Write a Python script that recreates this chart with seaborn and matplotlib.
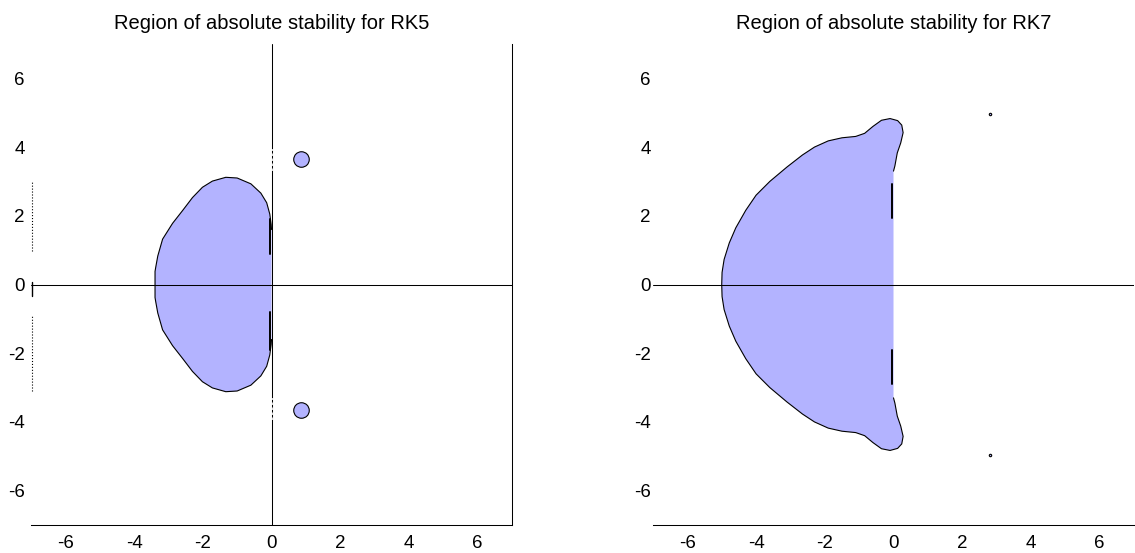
import matplotlib
matplotlib.use("Agg")
import matplotlib.pyplot as plt
import seaborn as sns
import pandas as pd

# ---------------- data ----------------
titles = ["Region of absolute stability for RK5", "Region of absolute stability for RK7"]
tick_values = [-6, -4, -2, 0, 2, 4, 6]
tick_labels = ["-6", "-4", "-2", "0", "2", "4", "6"]

# RK5 stability-region boundary (Re z, Im z), curved part, top -> left -> bottom
rk5_x = [0.00, -0.01, -0.05, -0.14, -0.31, -0.60, -1.00, -1.33, -1.72, -2.01,
         -2.30, -2.59, -2.88, -3.17, -3.31, -3.37, -3.39, -3.39, -3.39,
         -3.37, -3.31, -3.17, -2.88, -2.59, -2.30, -2.01, -1.72, -1.33,
         -1.00, -0.60, -0.31, -0.14, -0.05, -0.01, 0.00]
rk5_y = [1.60, 1.75, 2.05, 2.38, 2.66, 2.93, 3.10, 3.12, 3.01, 2.83,
         2.53, 2.15, 1.78, 1.32, 0.83, 0.50, 0.38, 0.00, -0.38,
         -0.50, -0.83, -1.32, -1.78, -2.15, -2.53, -2.83, -3.01, -3.12,
         -3.10, -2.93, -2.66, -2.38, -2.05, -1.75, -1.60]
rk5_island_x = [0.86, 0.86]
rk5_island_y = [3.65, -3.65]
rk5_edge_upper_y = [0.90, 1.90]
rk5_edge_lower_y = [-1.90, -0.80]

# RK7 stability-region boundary (Re z, Im z)
rk7_x = [0.00, 0.04, 0.11, 0.21, 0.28, 0.24, 0.12, -0.10, -0.35, -0.60,
         -0.84, -1.10, -1.50, -1.90, -2.30, -2.65, -3.10, -3.60, -4.00,
         -4.30, -4.59, -4.78, -4.93, -4.99, -5.00, -4.99,
         -4.93, -4.78, -4.59, -4.30, -4.00, -3.60, -3.10, -2.65, -2.30,
         -1.90, -1.50, -1.10, -0.84, -0.60, -0.35, -0.10, 0.12, 0.24,
         0.28, 0.21, 0.11, 0.04, 0.00]
rk7_y = [3.30, 3.45, 3.83, 4.12, 4.42, 4.64, 4.77, 4.83, 4.78, 4.60,
         4.40, 4.31, 4.27, 4.18, 4.00, 3.77, 3.42, 3.00, 2.60,
         2.16, 1.65, 1.21, 0.73, 0.35, 0.00, -0.35,
         -0.73, -1.21, -1.65, -2.16, -2.60, -3.00, -3.42, -3.77, -4.00,
         -4.18, -4.27, -4.31, -4.40, -4.60, -4.78, -4.83, -4.77, -4.64,
         -4.42, -4.12, -3.83, -3.45, -3.30]
rk7_island_x = [2.81, 2.81]
rk7_island_y = [4.96, -4.96]
rk7_edge_upper_y = [1.95, 2.92]
rk7_edge_lower_y = [-2.90, -1.90]

# dotted artefacts on the left border of the RK5 panel
rk5_border_dots_upper = [0.98, 3.00]
rk5_border_dots_lower = [-3.10, -0.93]
rk5_border_solid = [-0.33, 0.07]

# ---------------- styling ----------------
sns.set_theme(style="white")
plt.rcParams["font.family"] = ["Liberation Sans", "DejaVu Sans"]

FILL = "#b3b3ff"
LW1 = 0.75  # ~1 px

W, H = 1135, 553
fig = plt.figure(figsize=(W / 100, H / 100), dpi=100)
ax1 = fig.add_axes([31 / W, 28 / H, 481 / W, 481 / H])
ax2 = fig.add_axes([653 / W, 28 / H, 481 / W, 481 / H])


def draw_region(ax, xs, ys, ix, iy, isize, edge_up, edge_lo):
    ax.fill(xs, ys, color=FILL, lw=0, zorder=1)
    df = pd.DataFrame({"re": xs, "im": ys, "idx": range(len(xs))})
    sns.lineplot(data=df, x="re", y="im", sort=False, estimator=None,
                 color="black", lw=0.8, ax=ax, zorder=3)
    isl = pd.DataFrame({"re": ix, "im": iy})
    sns.scatterplot(data=isl, x="re", y="im", s=isize, color=FILL,
                    edgecolor="black", linewidth=0.8, ax=ax, zorder=3)
    ax.plot([-0.03, -0.03], edge_up, color="black", lw=1.4, zorder=4)
    ax.plot([-0.03, -0.03], edge_lo, color="black", lw=1.4, zorder=4)


draw_region(ax1, rk5_x, rk5_y, rk5_island_x, rk5_island_y, 125,
            rk5_edge_upper_y, rk5_edge_lower_y)
draw_region(ax2, rk7_x, rk7_y, rk7_island_x, rk7_island_y, 3,
            rk7_edge_upper_y, rk7_edge_lower_y)

# coordinate axes through the origin
ax1.axhline(0, color="black", lw=LW1, zorder=5)
ax1.axvline(0, color="black", lw=LW1, zorder=5)
ax1.plot([0, 0], [3.30, 3.95], color="white", lw=1.2, ls=(0, (1.5, 1.5)), zorder=6)
ax1.plot([0, 0], [-3.95, -3.30], color="white", lw=1.2, ls=(0, (1.5, 1.5)), zorder=6)
ax2.axhline(0, color="black", lw=LW1, zorder=5)

# left border artefacts of panel 1
ax1.plot([-6.97, -6.97], rk5_border_dots_upper, color="black", lw=0.8, ls=":", zorder=5)
ax1.plot([-6.97, -6.97], rk5_border_dots_lower, color="black", lw=0.8, ls=":", zorder=5)
ax1.plot([-6.97, -6.97], rk5_border_solid, color="black", lw=1.0, zorder=5)

for ax, title, ypad in ((ax1, titles[0], 4.5), (ax2, titles[1], 1.5)):
    ax.set_xlim(-7, 7)
    ax.set_ylim(-7, 7)
    ax.set_xlabel("")
    ax.set_ylabel("")
    ax.set_xticks(tick_values, tick_labels)
    ax.set_yticks(tick_values, tick_labels)
    ax.tick_params(axis="both", length=0, labelsize=13.5, colors="black")
    ax.tick_params(axis="x", pad=7)
    ax.tick_params(axis="y", pad=ypad)
    ax.set_title(title, fontsize=14.5, pad=11, color="black")
    ax.grid(False)
    ax.set_facecolor("white")
    for s in ax.spines.values():
        s.set_visible(False)
    ax.spines["bottom"].set_visible(True)
    ax.spines["bottom"].set_color("black")
    ax.spines["bottom"].set_linewidth(LW1)

ax1.spines["right"].set_visible(True)
ax1.spines["right"].set_color("black")
ax1.spines["right"].set_linewidth(LW1)

fig.savefig("out.png", dpi=100, facecolor="white")
